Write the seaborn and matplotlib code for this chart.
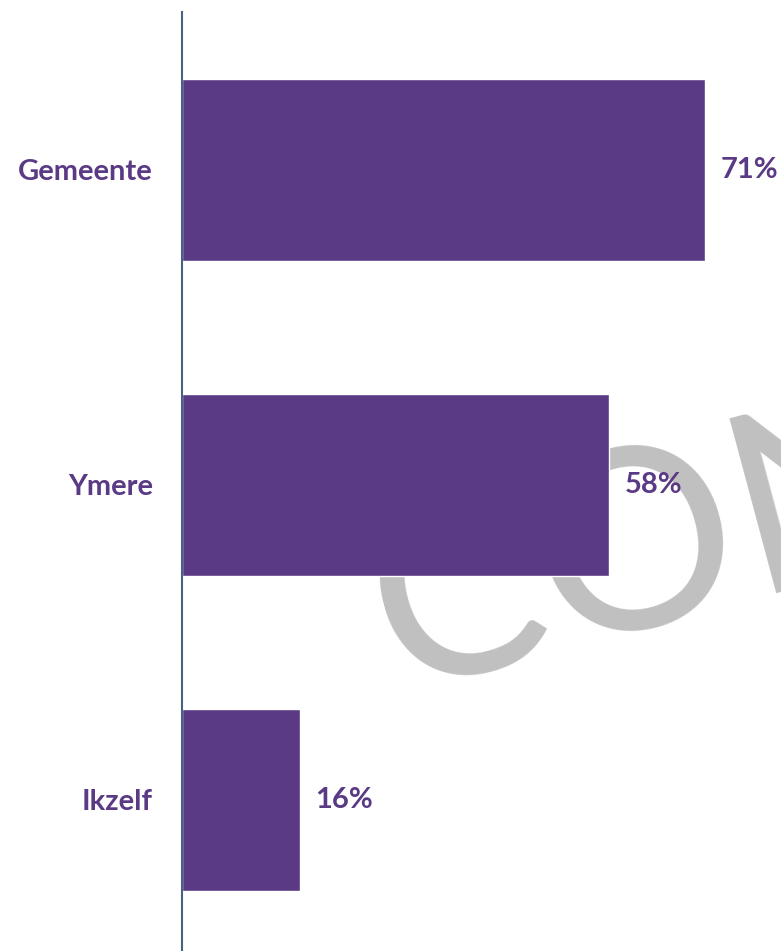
import matplotlib
matplotlib.use("Agg")
import matplotlib.pyplot as plt
import pandas as pd
import seaborn as sns

# Data
categories = ["Gemeente", "Ymere", "Ikzelf"]
percentages = [71, 58, 16]

purple = "#5A3A85"
spine_color = "#4A6282"

sns.set_style("white")
plt.rcParams["font.family"] = ["Lato", "DejaVu Sans"]

df = pd.DataFrame({"categorie": categories, "percentage": percentages})

fig = plt.figure(figsize=(7.81, 9.51), dpi=100)
ax = fig.add_axes([0.233, -0.0068, 0.767, 0.9937])

# Watermark behind the bars
fig.text(0.506, 1 - 692 / 951, "CONCEPT", fontsize=182, color="#C0C0C0",
         rotation=15, rotation_mode="anchor", ha="left", va="baseline",
         fontweight="normal", zorder=0)
ax.set_zorder(1)
ax.patch.set_alpha(0)

sns.barplot(data=df, x="percentage", y="categorie", orient="h",
            color=purple, width=0.578, saturation=1, ax=ax)

ax.bar_label(ax.containers[0], labels=[f"{v}%" for v in percentages],
             padding=11, fontsize=21, fontweight="bold", color=purple)

ax.set_xlim(0, 81.3)
ax.set_ylim(2.5, -0.5)
ax.set_xlabel("")
ax.set_ylabel("")
ax.set_xticks([])
ax.tick_params(axis="y", length=0, pad=21, labelsize=21, labelcolor=purple)
for lbl in ax.get_yticklabels():
    lbl.set_fontweight("bold")

for side in ["top", "right", "bottom"]:
    ax.spines[side].set_visible(False)
ax.spines["left"].set_color(spine_color)
ax.spines["left"].set_linewidth(1.5)

fig.savefig("out.png", dpi=100)
